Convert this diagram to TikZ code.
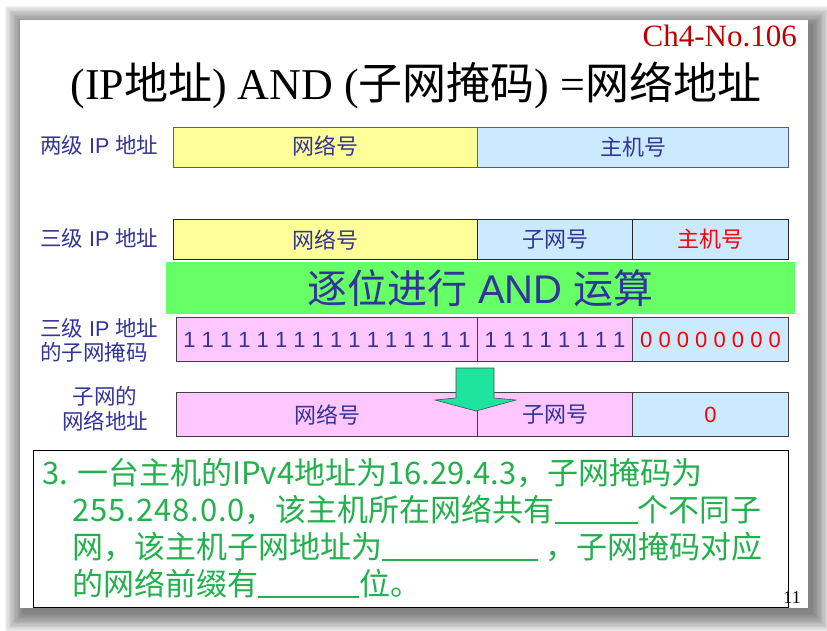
\documentclass[tikz,border=0pt]{standalone}
\usepackage{fontspec}
\setmainfont{Liberation Sans}
\newfontfamily\cjk{Noto Sans CJK SC}
\newfontfamily\tms{Liberation Serif}
\definecolor{ink}{RGB}{51,51,153}
\definecolor{hostred}{RGB}{255,0,0}
\definecolor{yel}{RGB}{255,255,153}
\definecolor{lblue}{RGB}{204,234,255}
\definecolor{pink}{RGB}{255,198,255}
\definecolor{bangreen}{RGB}{102,255,102}
\definecolor{arrowgreen}{RGB}{30,228,160}
\definecolor{qgreen}{RGB}{34,177,76}
\definecolor{darkred}{RGB}{192,0,0}
\definecolor{rowblue}{RGB}{85,85,170}
\newcommand\qblank[1]{\rule[-2.5pt]{#1}{1.6pt}}
\newcommand\wide[1]{{\addfontfeature{LetterSpace=3}#1}}
\begin{document}
\begin{tikzpicture}[x=1pt,y=-1pt,
  cell/.style={draw, line width=1.1pt, inner sep=0pt, anchor=north west,
    text=ink, font=\cjk\fontsize{22}{26}\selectfont},
  lbl/.style={text=ink, inner sep=0pt, font=\fontsize{21.5}{25}\selectfont, align=left},
  digits/.style={font=\fontsize{22}{26}\selectfont},
  qline/.style={text=qgreen, inner sep=0pt, anchor=base west, font=\cjk\fontsize{31}{36}\selectfont}]
\useasboundingbox (0,0) rectangle (827,630);

% soft drop shadow behind the slide
\foreach \i in {0,...,14}
  \fill[black,opacity=0.045] (23-\i*1.3,24-\i*1.3) rectangle (813+\i*1.3,614+\i*1.3);
\fill[white] (20,20) rectangle (808,608);

% heading
\node[text=darkred, anchor=base east, inner sep=0pt, font=\tms\fontsize{31}{36}\selectfont]
  (chap) at (797,46) {Ch4-No.106};
\node[inner sep=0pt, font=\fontsize{44}{50}\selectfont] (title) at (416,85)
  {{\tms (IP}{\cjk 地址}{\tms ) AND (}{\cjk 子网掩码}{\tms ) =}{\cjk 网络地址}};

% two-level address
\node[lbl, anchor=west] (lab1) at (40,145) {{\cjk 两级} IP {\cjk 地址}};
\node[cell, draw=rowblue, fill=yel, minimum width=304pt, minimum height=40pt] (r1net) at (173,127) {\raisebox{4pt}{网络号}};
\node[cell, draw=rowblue, fill=lblue, minimum width=311pt, minimum height=40pt] (r1host) at (477,127) {主机号};

% three-level address
\node[lbl, anchor=west] (lab2) at (40,238) {{\cjk 三级} IP {\cjk 地址}};
\node[cell, draw=black!85, fill=yel, minimum width=304pt, minimum height=40pt] (r2net) at (173,219) {网络号};
\node[cell, draw=black!85, fill=lblue, minimum width=155pt, minimum height=40pt] (r2sub) at (477,219) {子网号};
\node[cell, draw=black!85, fill=lblue, minimum width=156pt, minimum height=40pt, text=hostred] (r2host) at (632,219) {主机号};

% bitwise AND banner
\node[fill=bangreen, inner sep=0pt, minimum width=629pt, minimum height=52pt, text=ink,
  font=\fontsize{40}{44}\selectfont] (band) at (480.5,288) {{\cjk 逐位进行} AND {\cjk 运算}};

% subnet mask
\node[lbl, anchor=north west] (lab3) at (40,318) {{\cjk 三级} IP {\cjk 地址}\\[-1pt]{\cjk 的子网掩码}};
\node[cell, draw=black!75, fill=pink, minimum width=301pt, minimum height=44pt, digits] (r3a) at (176,317) {1 1 1 1 1 1 1 1 1 1 1 1 1 1 1 1};
\node[cell, draw=black!75, fill=pink, minimum width=155pt, minimum height=44pt, digits] (r3b) at (477,317) {1 1 1 1 1 1 1 1};
\node[cell, draw=black!75, fill=lblue, minimum width=156pt, minimum height=44pt, digits, text=hostred] (r3c) at (632,317) {0 0 0 0 0 0 0 0};

% resulting subnet address
\node[lbl, align=center, font=\cjk\fontsize{21.5}{25}\selectfont] (lab4) at (105,409) {子网的\\网络地址};
\node[cell, draw=black!75, fill=pink, minimum width=301pt, minimum height=44pt] (r4net) at (176,392) {网络号};
\node[cell, draw=black!75, fill=pink, minimum width=155pt, minimum height=44pt] (r4sub) at (477,392) {子网号};
\node[cell, draw=black!75, fill=lblue, minimum width=156pt, minimum height=44pt, text=hostred, font=\fontsize{22}{26}\selectfont] (r4host) at (632,392) {0};

% block arrow from the mask down to the result
\filldraw[fill=arrowgreen, draw=black!70, line width=0.6pt]
  (456,368) -- (494,368) -- (494,398) -- (516,400) -- (476,411) -- (435,400) -- (456,398) -- cycle;

% exercise
\node[draw, line width=1.2pt, inner sep=0pt, anchor=north west, minimum width=755pt, minimum height=157pt] (qbox) at (33,450) {};
\node[qline] (q1) at (42,484) {3. 一台主机的IPv4地址为16.29.4.3，子网掩码为};
\node[qline] (q2) at (72,521) {\wide{255.248.0.0}，该主机所在网络共有\qblank{83pt}个不同子};
\node[qline] (q3) at (72,558) {网，该主机子网地址为\qblank{156pt} ，子网掩码对应};
\node[qline] (q4) at (72,595) {的网络前缀有\qblank{101pt}位。};

\node[anchor=base east, inner sep=0pt, font=\tms\fontsize{18}{20}\selectfont] (pageno) at (801,603) {11};
\end{tikzpicture}
\end{document}
